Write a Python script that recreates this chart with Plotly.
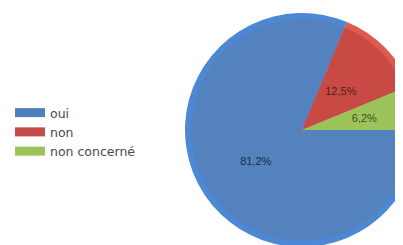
import plotly.graph_objects as go

# ---- data ----
categories = ["oui", "non", "non concerné"]
values = [81.2, 12.5, 6.2]
pct_labels = ["81,2%", "12,5%", "6,2%"]

# ---- styles ----
slice_colors = ["#5382be", "#c94a44", "#9cc25a"]
rim_colors = ["#4c88d4", "#dd5a4c", "#a8cf5e"]
swatch_colors = ["#4f80be", "#c24b49", "#9cc25a"]
text_colors = ["#1c2c4c", "#561c1a", "#3a5516"]

W, H = 420, 245
cx, cy, R, rim = 294, 122, 117, 6


def dom(r):
    return dict(x=[(cx - r) / W, (cx + r) / W], y=[(H - cy - r) / H, (H - cy + r) / H])


big_text = [t if i == 0 else "" for i, t in enumerate(pct_labels)]
small_text = [t if i > 0 else "" for i, t in enumerate(pct_labels)]

common = dict(labels=categories, values=values, sort=False, direction="clockwise",
              rotation=90, showlegend=False)

fig = go.Figure()

# outer rim pie
fig.add_trace(go.Pie(
    **common, marker=dict(colors=rim_colors, line=dict(width=0)),
    textinfo="none", hoverinfo="skip", domain=dom(R),
))
# main pie (label of the large slice)
fig.add_trace(go.Pie(
    **common, marker=dict(colors=slice_colors, line=dict(width=0)),
    text=big_text, texttemplate="%{text}", textposition="inside",
    insidetextorientation="horizontal",
    textfont=dict(family="Liberation Sans", size=11, color=text_colors),
    domain=dom(R - rim),
))
# transparent overlay carrying the labels of the small slices
fig.add_trace(go.Pie(
    **common, marker=dict(colors=["rgba(0,0,0,0)"] * 3, line=dict(width=0)),
    text=small_text, texttemplate="%{text}", textposition="inside",
    insidetextorientation="horizontal", hoverinfo="skip",
    textfont=dict(family="Liberation Sans", size=11, color=text_colors),
    domain=dom(76),
))

# legend entries
for cat, col in zip(categories, swatch_colors):
    fig.add_trace(go.Scatter(x=[None], y=[None], mode="lines", name=cat,
                             line=dict(color=col, width=9)))

fig.update_layout(
    width=W, height=H,
    margin=dict(l=0, r=0, t=0, b=0),
    paper_bgcolor="white", plot_bgcolor="white",
    xaxis=dict(visible=False), yaxis=dict(visible=False),
    showlegend=True,
    uniformtext=dict(minsize=11, mode="show"),
    legend=dict(x=2 / W, y=1 - 90 / H, xanchor="left", yanchor="top",
                font=dict(family="DejaVu Sans", size=12.5, color="#4a4a4a"),
                bgcolor="rgba(0,0,0,0)", tracegroupgap=0, itemclick=False,
                itemdoubleclick=False),
)

fig.write_html("out.html")
